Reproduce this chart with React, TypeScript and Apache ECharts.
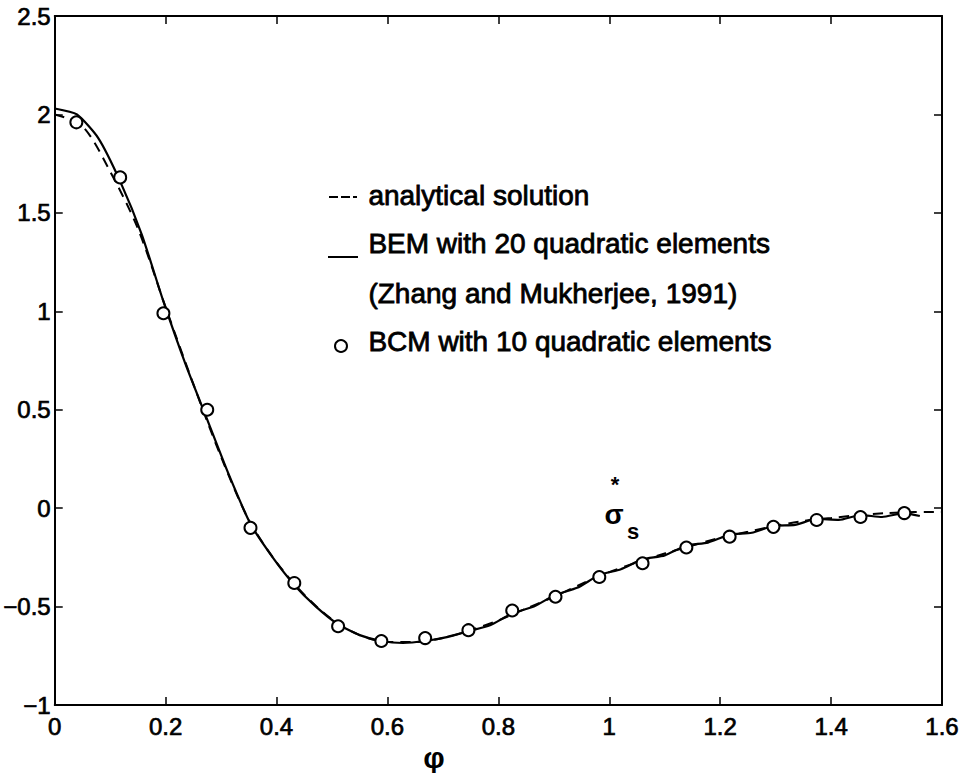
import React, { useEffect, useRef } from "react";
import * as echarts from "echarts";

// Analytical solution (dashed)
const analyticX = [0, 0.05, 0.1, 0.15, 0.2, 0.25, 0.3, 0.35, 0.4, 0.45, 0.5, 0.55, 0.6, 0.65, 0.7, 0.75, 0.8, 0.85, 0.9, 0.95, 1.0, 1.05, 1.1, 1.15, 1.2, 1.25, 1.3, 1.35, 1.4, 1.45, 1.5, 1.55, 1.6];
const analyticY = [2.0, 1.94, 1.71, 1.42, 1.02, 0.63, 0.26, -0.06, -0.275, -0.44, -0.565, -0.645, -0.68, -0.68, -0.66, -0.62, -0.57, -0.51, -0.45, -0.385, -0.325, -0.275, -0.23, -0.19, -0.15, -0.12, -0.09, -0.065, -0.05, -0.035, -0.025, -0.02, -0.02];

// BEM with 20 quadratic elements (solid)
const bemX = [0, 0.04, 0.0785, 0.118, 0.157, 0.196, 0.236, 0.275, 0.314, 0.353, 0.393, 0.432, 0.471, 0.511, 0.55, 0.589, 0.628, 0.668, 0.707, 0.746, 0.785, 0.825, 0.864, 0.903, 0.942, 0.982, 1.021, 1.06, 1.1, 1.139, 1.178, 1.217, 1.257, 1.296, 1.335, 1.374, 1.414, 1.453, 1.492, 1.532, 1.56];
const bemY = [2.03, 2.0, 1.88, 1.66, 1.39, 1.05, 0.73, 0.45, 0.17, -0.08, -0.25, -0.39, -0.5, -0.59, -0.645, -0.675, -0.685, -0.675, -0.655, -0.625, -0.595, -0.535, -0.5, -0.44, -0.405, -0.34, -0.31, -0.26, -0.24, -0.19, -0.175, -0.135, -0.125, -0.09, -0.085, -0.055, -0.06, -0.035, -0.045, -0.025, -0.04];

// BCM with 10 quadratic elements (circles)
const bcmX = [0.039, 0.118, 0.196, 0.275, 0.353, 0.432, 0.511, 0.589, 0.668, 0.746, 0.825, 0.903, 0.982, 1.06, 1.139, 1.217, 1.296, 1.374, 1.453, 1.532];
const bcmY = [1.96, 1.68, 0.99, 0.5, -0.1, -0.38, -0.6, -0.675, -0.66, -0.62, -0.52, -0.45, -0.35, -0.28, -0.2, -0.145, -0.095, -0.06, -0.045, -0.025];

const legendItems = ["analytical solution", "BEM with 20 quadratic elements", "(Zhang and Mukherjee, 1991)", "BCM with 10 quadratic elements"];

const FONT = "Liberation Sans, Arial, Helvetica, sans-serif";

const fmt = (v: number) => String(+v.toFixed(2)).replace("-", "\u2212");

export default function App() {
  const ref = useRef<HTMLDivElement>(null);
  useEffect(() => {
    if (!ref.current) return;
    const chart = echarts.init(ref.current, null, { renderer: "svg" });
    const zip = (xs: number[], ys: number[]) => xs.map((x, i) => [x, ys[i]]);
    const tickStyle = { show: true, inside: true, length: 8, lineStyle: { color: "#000", width: 1.5 } };
    const axLine = { show: true, onZero: false, lineStyle: { color: "#000", width: 2 } };
    const label = { color: "#000", fontSize: 24, fontFamily: FONT, textBorderColor: "#000", textBorderWidth: 0.7, formatter: fmt };
    const txt = (text: string, left: number, top: number) => ({
      type: "text", left, top,
      style: { text, font: `28px ${FONT}`, fill: "#000", stroke: "#000", lineWidth: 0.8 },
    });
    chart.setOption({
      animation: false,
      backgroundColor: "#fff",
      grid: { left: 46, top: 16, right: 21, bottom: 68, containLabel: false },
      xAxis: [
        { type: "value", min: 0, max: 1.6, interval: 0.2, position: "bottom", axisLine: axLine, axisTick: tickStyle, axisLabel: { ...label, margin: 9 }, splitLine: { show: false } },
        { type: "value", min: 0, max: 1.6, interval: 0.2, position: "top", axisLine: axLine, axisTick: tickStyle, axisLabel: { show: false }, splitLine: { show: false } },
      ],
      yAxis: [
        { type: "value", min: -1, max: 2.5, interval: 0.5, position: "left", axisLine: axLine, axisTick: tickStyle, axisLabel: { ...label, margin: 4 }, splitLine: { show: false } },
        { type: "value", min: -1, max: 2.5, interval: 0.5, position: "right", axisLine: axLine, axisTick: tickStyle, axisLabel: { show: false }, splitLine: { show: false } },
      ],
      series: [
        { name: legendItems[0], type: "line", data: zip(analyticX, analyticY), smooth: 0.3, showSymbol: false, lineStyle: { color: "#000", width: 2, type: [10, 7] } },
        { name: legendItems[1], type: "line", data: zip(bemX, bemY), smooth: 0.2, showSymbol: false, lineStyle: { color: "#000", width: 2.2 } },
        { name: legendItems[3], type: "scatter", data: zip(bcmX, bcmY), symbol: "emptyCircle", symbolSize: 12, z: 5, itemStyle: { color: "#000", borderColor: "#000", borderWidth: 2.2, opacity: 1 } },
      ],
      graphic: [
        { type: "line", shape: { x1: 329, y1: 197, x2: 357, y2: 197 }, style: { stroke: "#000", lineWidth: 2, lineDash: [9, 3] } },
        txt(legendItems[0], 368, 181),
        { type: "line", shape: { x1: 328, y1: 257, x2: 358, y2: 257 }, style: { stroke: "#000", lineWidth: 2 } },
        txt(legendItems[1], 368, 229),
        txt(legendItems[2], 368, 279),
        { type: "circle", shape: { cx: 341, cy: 346, r: 6 }, style: { fill: "#fff", stroke: "#000", lineWidth: 2 } },
        txt(legendItems[3], 368, 327),
        { type: "text", x: 614, y: 514, style: { text: "\u03c3", font: `bold 28px ${FONT}`, fill: "#000", align: "center", verticalAlign: "middle" } },
        { type: "text", x: 615, y: 484, style: { text: "*", font: `bold 22px ${FONT}`, fill: "#000", align: "center", verticalAlign: "middle" } },
        { type: "text", x: 633, y: 531, style: { text: "s", font: `bold 22px ${FONT}`, fill: "#000", align: "center", verticalAlign: "middle" } },
        { type: "text", x: 434, y: 757, style: { text: "\u03c6", font: `bold 30px ${FONT}`, fill: "#000", align: "center", verticalAlign: "middle" } },
      ],
    });
    return () => chart.dispose();
  }, []);
  return <div ref={ref} style={{ position: "fixed", left: 0, top: 0, width: 963, height: 773 }} />;
}
